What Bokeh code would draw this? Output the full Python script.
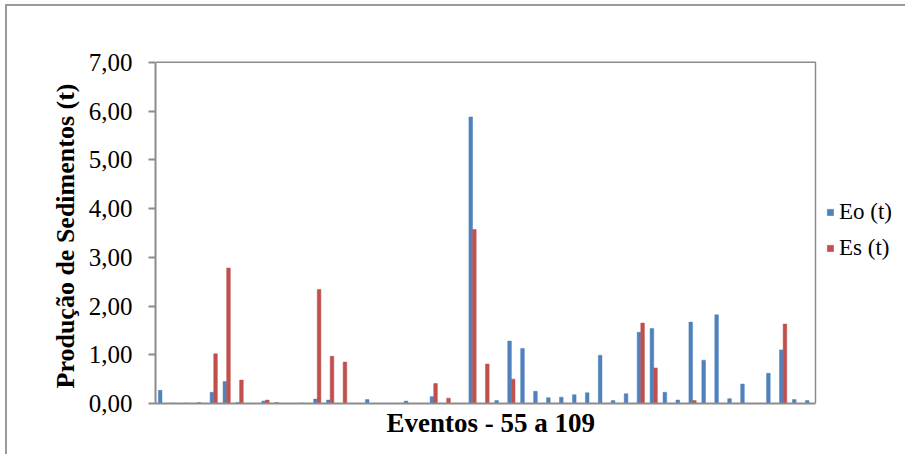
from bokeh.plotting import figure
from bokeh.models import ColumnDataSource, FixedTicker, Legend, LegendItem, Range1d, Title
from bokeh.transform import dodge
from bokeh.embed import file_html
from bokeh.resources import INLINE

# Sediment yield per event (tonnes): observed (Eo) and simulated (Es)
eo = [0.27, 0.01, 0.01, 0.02, 0.23, 0.45, 0.02, 0.00, 0.05, 0.02,
      0.00, 0.01, 0.09, 0.07, 0.00, 0.00, 0.08, 0.00, 0.00, 0.05,
      0.00, 0.14, 0.00, 0.00, 5.88, 0.00, 0.06, 1.28, 1.13, 0.25,
      0.12, 0.13, 0.18, 0.22, 0.99, 0.06, 0.20, 1.46, 1.54, 0.23,
      0.07, 1.67, 0.89, 1.82, 0.10, 0.40, 0.00, 0.62, 1.10, 0.08,
      0.06]
es = [0.00, 0.00, 0.00, 0.00, 1.02, 2.78, 0.48, 0.00, 0.07, 0.00,
      0.00, 0.00, 2.34, 0.97, 0.85, 0.00, 0.00, 0.00, 0.00, 0.00,
      0.00, 0.41, 0.11, 0.00, 3.57, 0.81, 0.00, 0.50, 0.00, 0.00,
      0.00, 0.00, 0.00, 0.00, 0.00, 0.00, 0.00, 1.65, 0.73, 0.00,
      0.00, 0.06, 0.00, 0.00, 0.00, 0.00, 0.00, 0.00, 1.63, 0.00,
      0.00]
evento = list(range(len(eo)))

y_ticks = [0, 1, 2, 3, 4, 5, 6, 7]
y_tick_labels = ["0,00", "1,00", "2,00", "3,00", "4,00", "5,00", "6,00", "7,00"]

series_names = ["Eo (t)", "Es (t)"]
series_colors = ["#4F81BD", "#C0504D"]

x_title = "Eventos - 55 a 109"
y_title = "Produção de Sedimentos (t)"

FONT = "Liberation Serif"
GREY = "#8c8c8c"

n = len(eo)
x_lo, x_hi = -0.5, n - 0.5          # plot area in category units
y_lo, y_hi = y_ticks[0], y_ticks[-1]

source = ColumnDataSource(dict(evento=evento, eo=eo, es=es))

# The frame runs on past the plot area so the legend can sit at its right
p = figure(
    width=900, height=450,
    output_backend="svg", toolbar_location=None,
    x_range=Range1d(x_lo, x_lo + 58.11),
    y_range=Range1d(y_lo, y_hi + 0.1),
    min_border_left=148, min_border_right=0,
    min_border_top=51, min_border_bottom=53,
)
p.styles = {
    "margin-left": "5px", "margin-top": "4px",
    "border-left": "2px solid #9a9a9a", "border-top": "2px solid #9a9a9a",
}
p.outline_line_color = None
p.xgrid.grid_line_color = None
p.ygrid.grid_line_color = None

bar_w = 0.28
r_eo = p.vbar(x=dodge("evento", -bar_w / 2), top="eo", width=bar_w, source=source,
              fill_color=series_colors[0], line_color=series_colors[0], line_width=0.5)
r_es = p.vbar(x=dodge("evento", bar_w / 2), top="es", width=bar_w, source=source,
              fill_color=series_colors[1], line_color=series_colors[1], line_width=0.5)

# top and right edges of the plot area
p.line(x=[x_lo, x_hi, x_hi], y=[y_hi, y_hi, y_lo], line_color=GREY, line_width=1.5)

# y axis
p.yaxis.bounds = (y_lo, y_hi)
p.yaxis.ticker = FixedTicker(ticks=y_ticks)
p.yaxis.major_label_overrides = dict(zip(y_ticks, y_tick_labels))
p.yaxis.minor_tick_line_color = None
p.yaxis.major_tick_in = 0
p.yaxis.major_tick_out = 7
p.yaxis.major_tick_line_color = GREY
p.yaxis.major_tick_line_width = 2
p.yaxis.axis_line_color = GREY
p.yaxis.axis_line_width = 2
p.yaxis.major_label_text_font = FONT
p.yaxis.major_label_text_font_size = "25px"
p.yaxis.major_label_text_color = "black"
p.yaxis.major_label_standoff = 16

# x axis: line only
p.xaxis.bounds = (x_lo, x_hi)
p.xaxis.ticker = FixedTicker(ticks=[])
p.xaxis.minor_tick_line_color = None
p.xaxis.major_tick_line_color = None
p.xaxis.axis_line_color = GREY
p.xaxis.axis_line_width = 2

# axis titles, centred on the plot area rather than on the wider frame
p.add_layout(Title(text=x_title, align="left", offset=231, standoff=4,
                   text_font=FONT, text_font_style="bold", text_font_size="27px",
                   text_color="black"), "below")
p.add_layout(Title(text=y_title, align="left", offset=15, standoff=11,
                   text_font=FONT, text_font_style="bold", text_font_size="26px",
                   text_color="black"), "left")

legend = Legend(
    items=[LegendItem(label=series_names[0], renderers=[r_eo]),
           LegendItem(label=series_names[1], renderers=[r_es])],
    location=(671, 142),
    glyph_width=8, glyph_height=8,
    label_text_font=FONT, label_text_font_size="23px", label_text_color="black",
    label_standoff=5, spacing=10, padding=0, margin=0,
    border_line_color=None, background_fill_alpha=0,
)
p.add_layout(legend)

open("out.html", "w").write(file_html(p, INLINE))
